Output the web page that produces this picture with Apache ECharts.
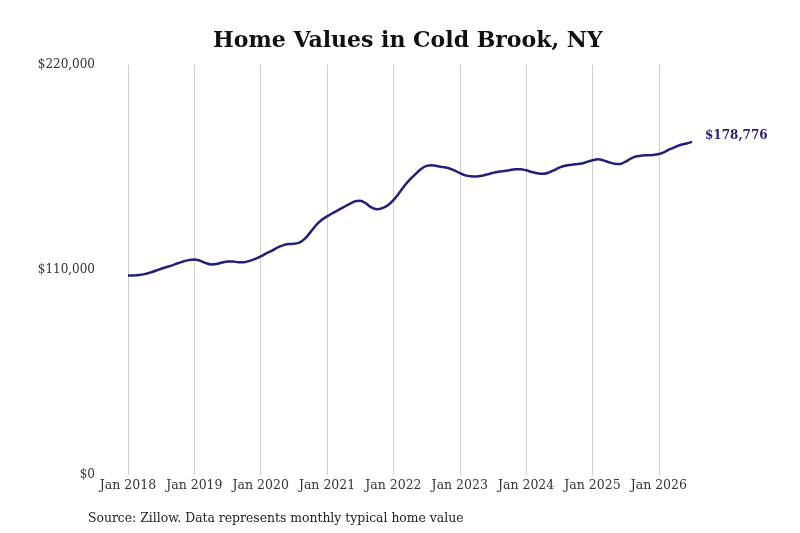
<!DOCTYPE html>
<html>
<head>
<meta charset="utf-8">
<title>Home Values in Cold Brook, NY</title>
<script src="https://cdn.jsdelivr.net/npm/echarts@6/dist/echarts.min.js"></script>
<style>
  html, body { margin: 0; padding: 0; background: #fff; }
  #chart { width: 800px; height: 533px; }
</style>
</head>
<body>
<div id="chart"></div>
<script>
// 年份 2018-2026，每月一个点
var years = [2018, 2019, 2020, 2021, 2022, 2023, 2024, 2025, 2026];
var monthNames = ['Jan', 'Feb', 'Mar', 'Apr', 'May', 'Jun', 'Jul', 'Aug', 'Sep', 'Oct', 'Nov', 'Dec'];

// 每月典型房价
var values2018 = [107000, 107100, 107300, 107800, 108600, 109600, 110700, 111600, 112500, 113600, 114600, 115300];
var values2019 = [115700, 115000, 113800, 113000, 113200, 114000, 114600, 114500, 114200, 114200, 114900, 116000];
var values2020 = [117300, 118900, 120300, 122000, 123200, 123900, 124100, 124700, 126800, 130300, 134000, 136800];
var values2021 = [138800, 140500, 142100, 143700, 145300, 146800, 147200, 145800, 143600, 142600, 143200, 144800];
var values2022 = [147500, 151200, 155200, 158600, 161500, 164200, 165900, 166200, 165700, 165200, 164600, 163500];
var values2023 = [162000, 160800, 160300, 160200, 160600, 161300, 162100, 162700, 163100, 163500, 164100, 164000];
var values2024 = [163500, 162600, 161900, 161600, 162200, 163500, 164900, 165900, 166400, 166800, 167100, 168000];
var values2025 = [168900, 169400, 168800, 167800, 167000, 166900, 168200, 169900, 171000, 171500, 171600, 171700];
var values2026 = [172200, 173300, 174800, 176100, 177200, 177900, 178776];

// y轴刻度
var yTicks = [0, 110000, 220000];

var values = [].concat(values2018, values2019, values2020, values2021, values2022,
  values2023, values2024, values2025, values2026);

// 类目: "Jan 2018" ...
var categories = [];
for (var i = 0; i < values.length; i++) {
  categories.push(monthNames[i % 12] + ' ' + years[Math.floor(i / 12)]);
}

function money(v) {
  return '$' + Math.round(v).toString().replace(/\B(?=(\d{3})+(?!\d))/g, ',');
}

var isJan = function (index) { return index % 12 === 0; };
var font = 'DejaVu Serif';

var chart = echarts.init(document.getElementById('chart'));
var option = {
  backgroundColor: '#fff',
  animation: false,
  textStyle: { fontFamily: font },
  title: [{
    text: 'Home Values in Cold Brook, NY',
    left: 213,
    top: 30,
    padding: 0,
    textStyle: { fontFamily: font, fontSize: 22, fontWeight: 'bold', color: '#111' }
  }, {
    text: 'Source: Zillow. Data represents monthly typical home value',
    left: 88,
    top: 513,
    padding: 0,
    textStyle: { fontFamily: font, fontSize: 12.4, fontWeight: 'normal', color: '#222' }
  }],
  grid: { left: 128, right: 108, top: 65, bottom: 58 },
  xAxis: {
    type: 'category',
    boundaryGap: false,
    data: categories,
    axisLine: { show: false },
    axisTick: { show: false },
    axisLabel: {
      interval: isJan,
      margin: 4,
      fontFamily: font,
      fontSize: 12.5,
      color: '#333'
    },
    splitLine: {
      show: true,
      interval: isJan,
      lineStyle: { color: '#cfcfcf', width: 1 }
    }
  },
  yAxis: {
    type: 'value',
    min: yTicks[0],
    max: yTicks[yTicks.length - 1],
    interval: yTicks[1] - yTicks[0],
    axisLine: { show: false },
    axisTick: { show: false },
    splitLine: { show: false },
    axisLabel: {
      margin: 33,
      fontFamily: font,
      fontSize: 12,
      color: '#333',
      formatter: money
    }
  },
  series: [{
    type: 'line',
    data: values,
    showSymbol: false,
    smooth: 0.3,
    lineStyle: { color: '#231f7c', width: 2.5 },
    itemStyle: { color: '#231f7c' },
    endLabel: {
      show: true,
      distance: 13,
      formatter: function (p) { return money(p.value); },
      fontFamily: font,
      fontSize: 12,
      fontWeight: 'bold',
      color: '#231f7c',
      offset: [0, -6]
    }
  }]
};
chart.setOption(option);
</script>
</body>
</html>
